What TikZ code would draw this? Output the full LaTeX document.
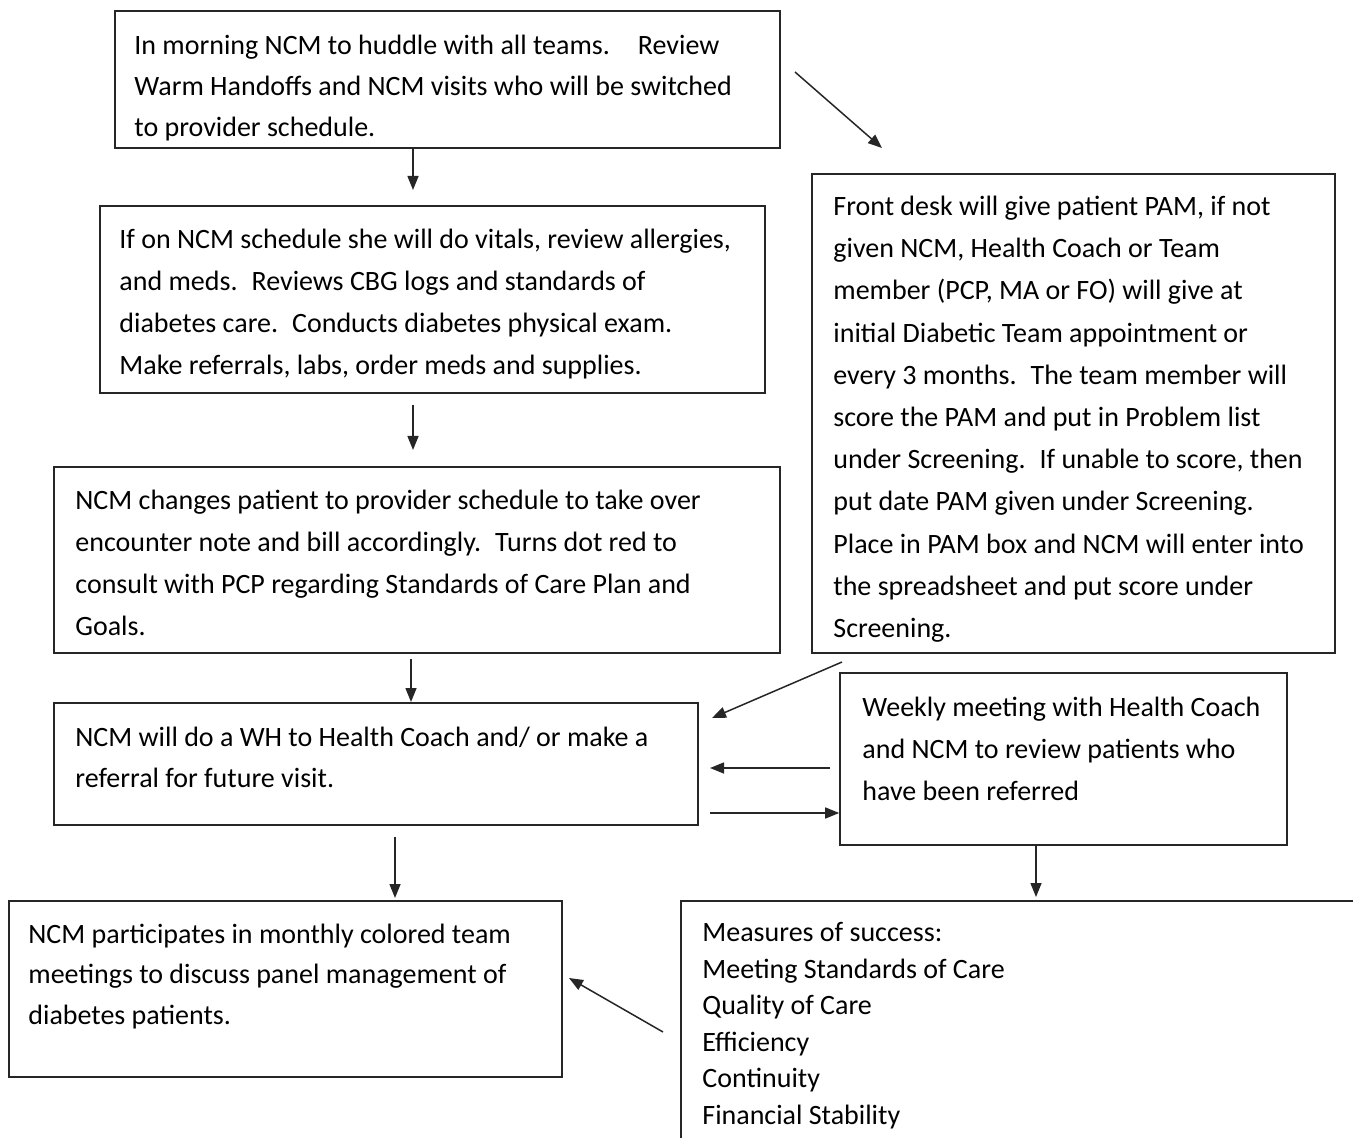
\documentclass[tikz,border=0pt]{standalone}
\usepackage{fontspec}
\setmainfont{Carlito}
\usetikzlibrary{fit,arrows.meta}
\newcommand{\firstln}{\rule{0pt}{12pt}}
\begin{document}
\begin{tikzpicture}[x=0.5pt,y=-0.5pt,
  box/.style={draw=black!85, line width=0.8pt, inner sep=0pt},
  txt/.style={anchor=north west, inner sep=0pt, align=left, font=\fontsize{14}{21}\selectfont},
  arr/.style={draw=black!85, line width=0.75pt, -{Triangle[length=7pt,width=5.5pt]}}]
\clip (0,0) rectangle (1353,1138);
\useasboundingbox (0,0) rectangle (1353,1138);

% boxes
\node[box, fit={(115,11) (780,148)}] (b1) {};
\node[box, fit={(100,206) (765,393)}] (b2) {};
\node[box, fit={(54,467) (780,653)}] (b3) {};
\node[box, fit={(812,174) (1335,653)}] (b4) {};
\node[box, fit={(54,703) (698,825)}] (b5) {};
\node[box, fit={(840,673) (1287,845)}] (b6) {};
\node[box, fit={(9,901) (562,1077)}] (b7) {};
\node[box, fit={(681,901) (1420,1220)}] (b8) {};

% texts
\node[txt, font=\fontsize{14}{20.5}\selectfont] (t1) at (134,30) {\firstln In morning NCM to huddle with all teams.\quad Review\\
Warm Handoffs and NCM visits who will be switched\\
to provider schedule.};

\node[txt] (t2) at (119,224) {\firstln If on NCM schedule she will do vitals, review allergies,\\
and meds.\enspace Reviews CBG logs and standards of\\
diabetes care.\enspace Conducts diabetes physical exam.\\
Make referrals, labs, order meds and supplies.};

\node[txt] (t3) at (75,485) {\firstln NCM changes patient to provider schedule to take over\\
encounter note and bill accordingly.\enspace Turns dot red to\\
consult with PCP regarding Standards of Care Plan and\\
Goals.};

\node[txt, font=\fontsize{14}{21.1}\selectfont] (t4) at (833,191) {\firstln Front desk will give patient PAM, if not\\
given NCM, Health Coach or Team\\
member (PCP, MA or FO) will give at\\
initial Diabetic Team appointment or\\
every 3 months.\enspace The team member will\\
score the PAM and put in Problem list\\
under Screening.\enspace If unable to score, then\\
put date PAM given under Screening.\\
Place in PAM box and NCM will enter into\\
the spreadsheet and put score under\\
Screening.};

\node[txt, font=\fontsize{14}{20.5}\selectfont] (t5) at (75,722) {\firstln NCM will do a WH to Health Coach and/ or make a\\
referral for future visit.};

\node[txt] (t6) at (862,692) {\firstln Weekly meeting with Health Coach\\
and NCM to review patients who\\
have been referred};

\node[txt, font=\fontsize{14}{20.25}\selectfont] (t7) at (28,919) {\firstln NCM participates in monthly colored team\\
meetings to discuss panel management of\\
diabetes patients.};

\node[txt, font=\fontsize{14}{18.3}\selectfont] (t8) at (702,917) {\firstln Measures of success:\\
Meeting Standards of Care\\
Quality of Care\\
Efficiency\\
Continuity\\
Financial Stability};

% connectors
\coordinate (a1) at (413,190);
\draw[arr] (b1.south -| a1) -- (a1);
\coordinate (a2s) at (413,405);
\coordinate (a2) at (413,450);
\draw[arr] (a2s) -- (a2);
\coordinate (a3s) at (411,659);
\coordinate (a3) at (411,702);
\draw[arr] (a3s) -- (a3);
\coordinate (a4s) at (395,837);
\coordinate (a4) at (395,898);
\draw[arr] (a4s) -- (a4);
\coordinate (a5s) at (795,72);
\coordinate (a5) at (882,148);
\draw[arr] (a5s) -- (a5);
\coordinate (a6s) at (842,662);
\coordinate (a6) at (712,718);
\draw[arr] (a6s) -- (a6);
\coordinate (a7s) at (830,768);
\coordinate (a7) at (710,768);
\draw[arr] (a7s) -- (a7);
\coordinate (a8s) at (710,813);
\draw[arr] (a8s) -- (a8s -| b6.west);
\coordinate (a9) at (1036,897);
\draw[arr] (b6.south -| a9) -- (a9);
\coordinate (a10s) at (663,1032);
\coordinate (a10) at (569,978);
\draw[arr] (a10s) -- (a10);
\end{tikzpicture}
\end{document}
